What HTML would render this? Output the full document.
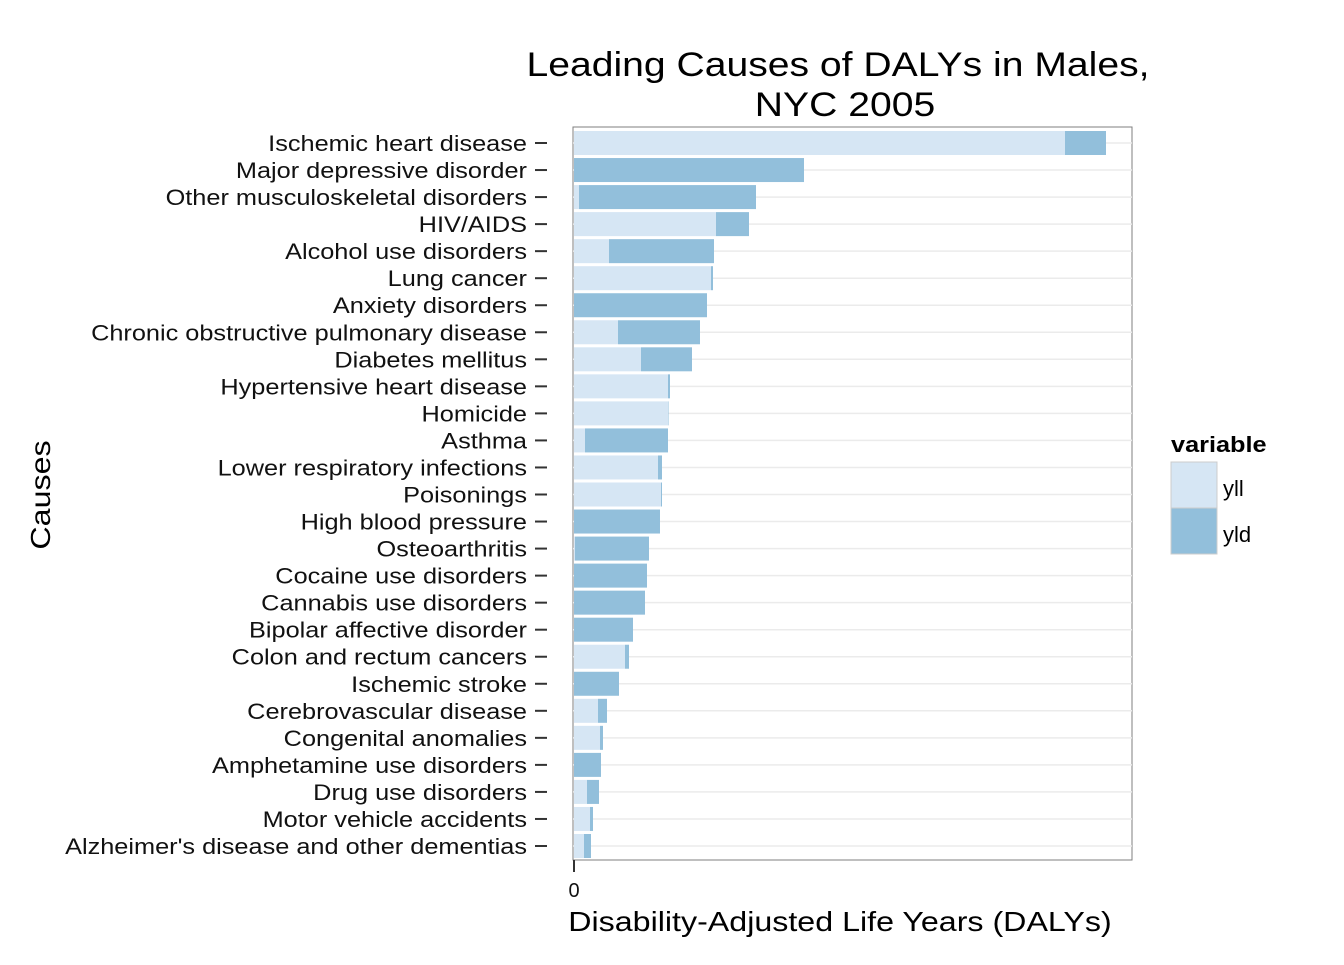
<!DOCTYPE html>
<html><head><meta charset="utf-8"><style>
body{margin:0;background:#fff;}
svg text{font-family:"Liberation Sans",Arial,sans-serif;}
</style></head><body>
<svg id="root" width="1344" height="960" xmlns="http://www.w3.org/2000/svg">
<rect width="1344" height="960" fill="#fff"/>
<text class="w" x="838" y="76" font-size="34" text-anchor="middle">Leading Causes of DALYs in Males,</text>
<text class="w" x="845" y="116" font-size="34" text-anchor="middle">NYC 2005</text>
<g id="plot"></g>
<text x="574" y="897" font-size="20" text-anchor="middle" fill="#111">0</text>
<line x1="574" y1="860" x2="574" y2="872" stroke="#333" stroke-width="2"/>
<text class="w" x="840" y="931" font-size="28" text-anchor="middle">Disability-Adjusted Life Years (DALYs)</text>
<text class="w" transform="translate(50,495) rotate(-90)" font-size="28" text-anchor="middle">Causes</text>
<g>
<text class="w" x="1171" y="452" font-size="22" font-weight="bold">variable</text>
<rect x="1171" y="462" width="46" height="46" fill="#d6e6f4" stroke="#ccc"/>
<text x="1223" y="496" font-size="22">yll</text>
<rect x="1171" y="508" width="46" height="46" fill="#92bfdb" stroke="#ccc"/>
<text x="1223" y="542" font-size="22">yld</text>
</g>
</svg>
<script>
const categories=["Ischemic heart disease","Major depressive disorder","Other musculoskeletal disorders","HIV/AIDS","Alcohol use disorders","Lung cancer","Anxiety disorders","Chronic obstructive pulmonary disease","Diabetes mellitus","Hypertensive heart disease","Homicide","Asthma","Lower respiratory infections","Poisonings","High blood pressure","Osteoarthritis","Cocaine use disorders","Cannabis use disorders","Bipolar affective disorder","Colon and rectum cancers","Ischemic stroke","Cerebrovascular disease","Congenital anomalies","Amphetamine use disorders","Drug use disorders","Motor vehicle accidents","Alzheimer's disease and other dementias"];
const yll=[491,0,5,142,35,137,0,44,67,94,94,11,84,87,0,1,0,0,0,51,0,24,26,0,13,16,10];
const yld=[41,230,177,33,105,2,133,82,51,2,0.5,83,4,1,86,74,73,71,59,4,45,9,3,27,12,3,7];
const xMax=558;
const px0=574, px1=1132, py0=127, py1=860;
const x=v=>px0+v*(px1-px0)/xMax;
const step=(846-143)/(categories.length-1);
const y=i=>143+i*step;
const NS="http://www.w3.org/2000/svg";
const g=document.getElementById('plot');
function mk(t,a){const e=document.createElementNS(NS,t);for(const k in a)e.setAttribute(k,a[k]);return e;}
const bg=mk('rect',{x:px0-1,y:py0,width:px1-px0+1,height:py1-py0,fill:'#fff',stroke:'#7f7f7f','stroke-width':1});


g.appendChild(bg);
categories.forEach((c,i)=>{
  const yy=y(i);
  const gl=mk('line',{x1:px0-1,x2:px1,y1:yy,y2:yy,stroke:'#ebebeb','stroke-width':1.5});
  
  
  g.appendChild(gl);
});
categories.forEach((c,i)=>{
  const yy=y(i), h=24;
  const b1=mk('rect',{x:x(0),y:yy-h/2,width:Math.max(0,x(yll[i])-x(0)),height:h,fill:'#d6e6f4'});
  
  
  g.appendChild(b1);
  const b2=mk('rect',{x:x(yll[i]),y:yy-h/2,width:Math.max(0,x(yll[i]+yld[i])-x(yll[i])),height:h,fill:'#92bfdb'});
  
  
  g.appendChild(b2);
  const tk=mk('line',{x1:535,x2:547,y1:yy,y2:yy,stroke:'#333','stroke-width':2});
  
  
  g.appendChild(tk);
  const t=mk('text',{x:527,y:yy+8,'font-size':22,'text-anchor':'end',fill:'#111',class:'w'});
  t.textContent=c;
  
  
  g.appendChild(t);
});
document.querySelectorAll('text.w').forEach(t=>{
  const L=t.getComputedTextLength();
  t.setAttribute('textLength',(L*1.15).toFixed(1));
  t.setAttribute('lengthAdjust','spacingAndGlyphs');
});
</script>
</body></html>
